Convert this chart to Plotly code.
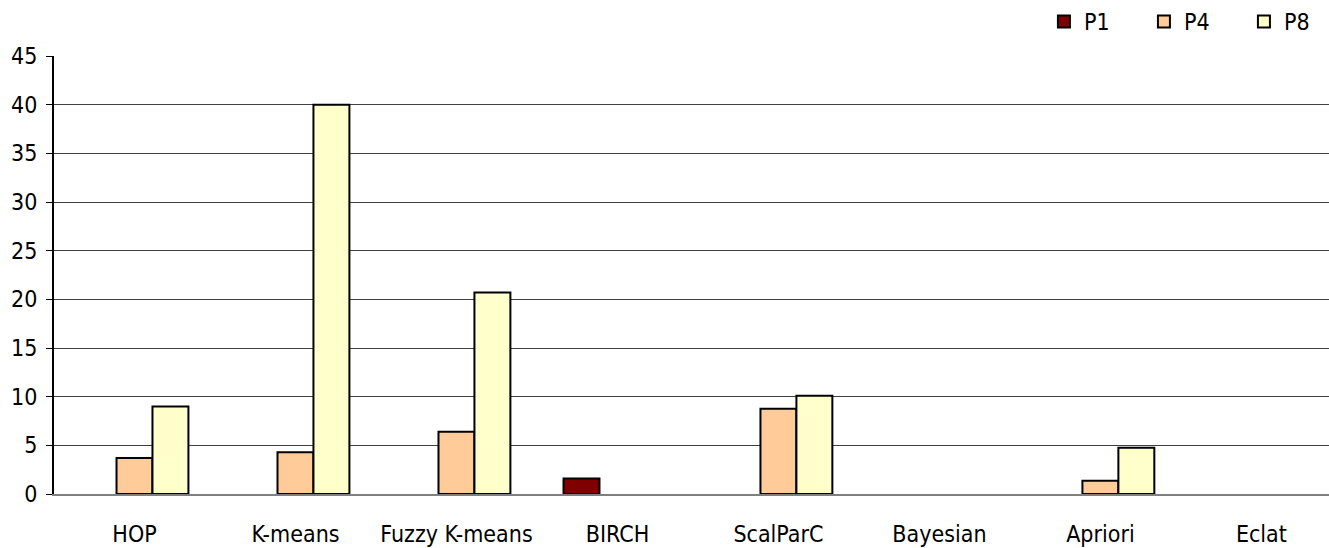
import plotly.graph_objects as go

categories = ["HOP", "K-means", "Fuzzy K-means", "BIRCH", "ScalParC", "Bayesian", "Apriori", "Eclat"]
p1 = [None, None, None, 1.6, None, None, None, None]
p4 = [3.7, 4.3, 6.4, None, 8.75, None, 1.35, None]
p8 = [9.0, 40.0, 20.7, None, 10.1, None, 4.75, None]
y_ticks = [0, 5, 10, 15, 20, 25, 30, 35, 40, 45]

FONT = "DejaVu Sans Condensed, Liberation Sans Narrow, Arial Narrow, sans-serif"
FSIZE = 23

fig = go.Figure()
for name, vals, color in [("P1", p1, "#800000"), ("P4", p4, "#FFCC99"), ("P8", p8, "#FFFFCC")]:
    fig.add_trace(go.Bar(
        x=categories, y=vals, name=name,
        marker=dict(color=color, line=dict(color="#000000", width=2)),
    ))

fig.update_layout(
    width=1329, height=548,
    margin=dict(l=54, r=0, t=56, b=54, autoexpand=False),
    paper_bgcolor="white", plot_bgcolor="white",
    barmode="group", bargap=0.33, bargroupgap=0,
    font=dict(family=FONT, size=FSIZE, color="#000000"),
    showlegend=True,
    legend=dict(
        orientation="h", xref="container", yref="container",
        x=0.7855, xanchor="left", y=1.0, yanchor="top",
        font=dict(family=FONT, size=FSIZE), entrywidth=55, entrywidthmode="pixels",
        traceorder="normal", bgcolor="rgba(0,0,0,0)", itemwidth=30,
    ),
    xaxis=dict(
        type="category", range=[-0.5, 7.42],
        showgrid=False, showline=True, linecolor="#808080", linewidth=2,
        ticks="", ticklabelstandoff=18, tickfont=dict(family=FONT, size=FSIZE),
    ),
    yaxis=dict(
        range=[0, 45], tickvals=y_ticks,
        showgrid=True, gridcolor="#404040", gridwidth=1,
        showline=True, linecolor="#000000", linewidth=2,
        ticks="outside", ticklen=6, tickcolor="#000000", ticklabelstandoff=4,
        tickfont=dict(family=FONT, size=FSIZE), zeroline=False,
    ),
)

fig.write_html("out.html")
